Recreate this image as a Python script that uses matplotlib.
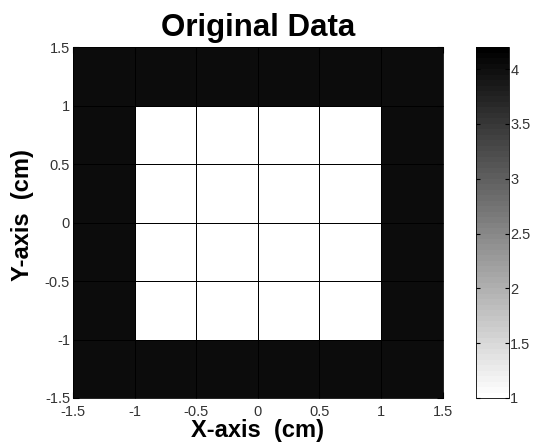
import matplotlib.pyplot as plt
import numpy as np

plt.rcParams['font.family'] = ['Liberation Sans', 'DejaVu Sans']

# cell edges (cm) and cell values
x_edges = [-1.5, -1.0, -0.5, 0.0, 0.5, 1.0, 1.5]
y_edges = [-1.5, -1.0, -0.5, 0.0, 0.5, 1.0, 1.5]
values = np.array([
    [4.05, 4.05, 4.05, 4.05, 4.05, 4.05],
    [4.05, 1.0, 1.0, 1.0, 1.0, 4.05],
    [4.05, 1.0, 1.0, 1.0, 1.0, 4.05],
    [4.05, 1.0, 1.0, 1.0, 1.0, 4.05],
    [4.05, 1.0, 1.0, 1.0, 1.0, 4.05],
    [4.05, 4.05, 4.05, 4.05, 4.05, 4.05],
])
x_ticks = [-1.5, -1, -0.5, 0, 0.5, 1, 1.5]
y_ticks = [-1.5, -1, -0.5, 0, 0.5, 1, 1.5]
tick_labels = ['-1.5', '-1', '-0.5', '0', '0.5', '1', '1.5']
cbar_ticks = [1, 1.5, 2, 2.5, 3, 3.5, 4]
cbar_labels = ['1', '1.5', '2', '2.5', '3', '3.5', '4']
vmin, vmax = 1.0, 4.2

fig = plt.figure(figsize=(5.36, 4.43), dpi=100)
ax = fig.add_axes([0.136, 0.1016, 0.690, 0.792])
cax = fig.add_axes([0.888, 0.1016, 0.0616, 0.792])

cmap = plt.get_cmap('gray_r', 64)
mesh = ax.pcolormesh(x_edges, y_edges, values, cmap=cmap, vmin=vmin, vmax=vmax,
                     edgecolors='k', linewidth=0.5)

ax.set_xlim(-1.5, 1.5)
ax.set_ylim(-1.5, 1.5)
ax.set_xticks(x_ticks)
ax.set_xticklabels(tick_labels)
ax.set_yticks(y_ticks)
ax.set_yticklabels(tick_labels)
ax.tick_params(direction='in', length=4, labelsize=10.5, labelcolor='#333333',
               top=True, right=True)
ax.tick_params(axis='x', pad=5)
ax.tick_params(axis='y', pad=2)
for s in ax.spines.values():
    s.set_linewidth(0.6)

ax.set_title('Original Data', fontsize=22.5, fontweight='bold', pad=8)
ax.set_xlabel('X-axis  (cm)', fontsize=17, fontweight='bold', labelpad=0)
ax.set_ylabel('Y-axis  (cm)', fontsize=17, fontweight='bold')
ax.yaxis.set_label_coords(-0.105, 0.52)

cb = fig.colorbar(mesh, cax=cax)
cb.set_ticks(cbar_ticks)
cb.set_ticklabels(cbar_labels)
cb.ax.tick_params(direction='in', length=3, labelsize=10.5, labelcolor='#333333',
                  left=True, right=True, pad=1)
cb.outline.set_linewidth(0.6)

fig.savefig('out.png', dpi=100)
